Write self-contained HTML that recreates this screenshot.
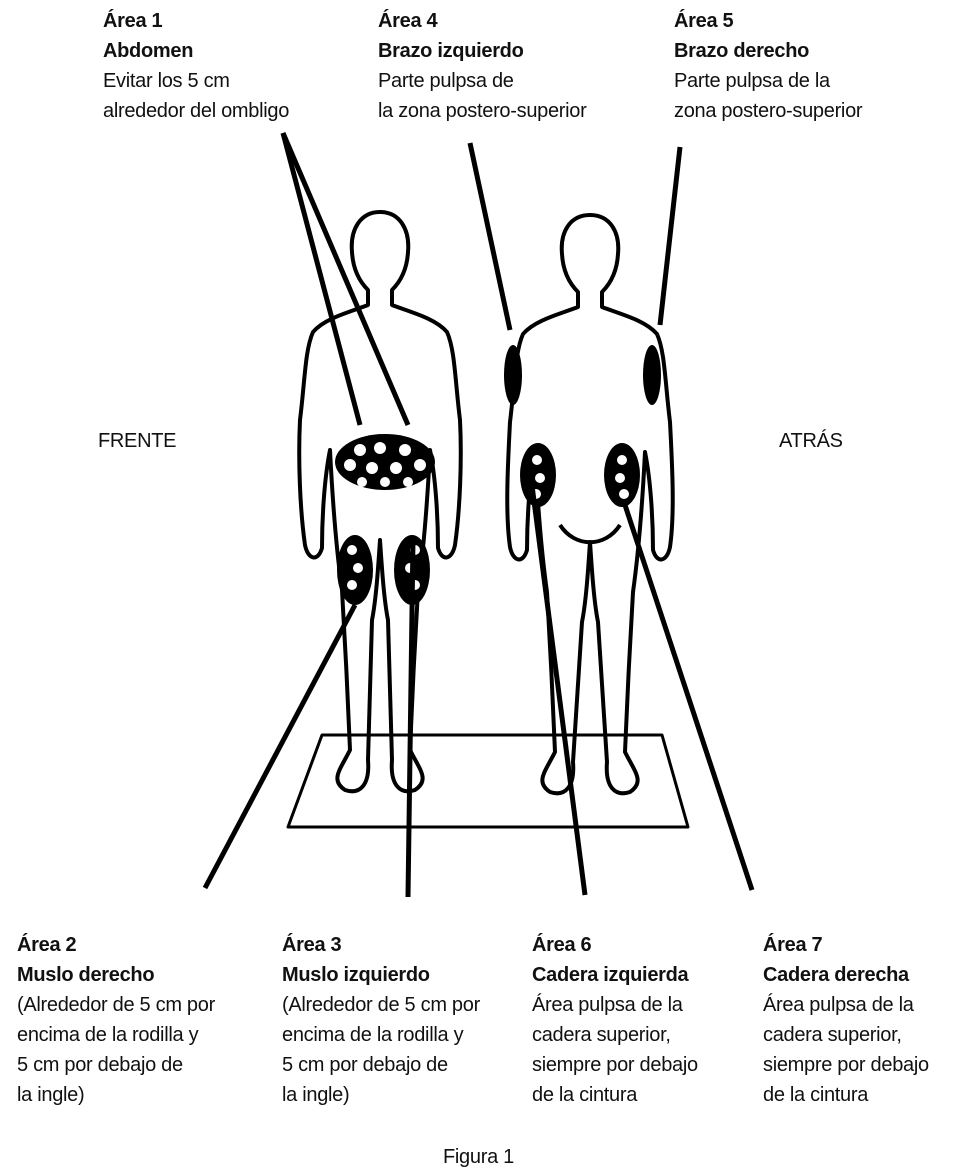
<!DOCTYPE html>
<html><head><meta charset="utf-8"><style>
body{margin:0;background:#fff;width:959px;height:1174px;position:relative;overflow:hidden;font-family:"Liberation Sans Narrow","Liberation Sans",sans-serif;}
.t{position:absolute;font-size:20px;line-height:30px;color:#111;white-space:nowrap;letter-spacing:-0.3px}
.t b{font-weight:bold}
svg{position:absolute;left:0;top:0}
</style></head><body>
<svg width="959" height="1174" viewBox="0 0 959 1174">
<g fill="none" stroke="#000" stroke-width="4" stroke-linejoin="round">
<polygon points="322,735 662,735 688,827 288,827" stroke-width="3"/>
<path d="M380,212 C360,212 350,230 352,252 C353,270 360,282 368,290 L368,305 C350,312 325,318 313,332 C305,350 305,380 300,420 C298,460 300,510 305,545 C308,560 318,562 322,548 C322,520 324,480 330,450 C332,490 335,540 342,590 C345,640 348,700 350,750 C340,770 330,780 345,790 C360,795 370,785 368,760 L372,620 C376,600 378,570 380,540 C382,570 384,600 388,620 L392,760 C390,785 400,795 415,790 C430,780 420,770 410,750 C412,700 415,640 418,590 C425,540 428,490 430,450 C436,480 438,520 438,548 C442,562 452,560 455,545 C460,510 462,460 460,420 C455,380 455,350 447,332 C435,318 410,312 392,305 L392,290 C400,282 407,270 408,252 C410,230 400,212 380,212 Z"/>
<path d="M590,215 C570,215 560,232 562,254 C563,272 570,284 578,292 L578,307 C560,314 535,320 523,334 C515,352 515,382 510,422 C508,462 505,512 510,547 C513,562 523,564 527,550 C527,522 529,482 535,452 C537,492 540,542 547,592 C550,642 553,702 555,752 C545,772 535,782 550,792 C565,797 575,787 573,762 L582,622 C586,602 588,572 590,542 C592,572 594,602 598,622 L607,762 C605,787 615,797 630,792 C645,782 635,772 625,752 C627,702 630,642 633,592 C640,542 643,492 645,452 C651,482 653,522 653,550 C657,564 667,562 670,547 C675,512 672,462 670,422 C665,382 665,352 657,334 C645,320 620,314 602,307 L602,292 C610,284 617,272 618,254 C620,232 610,215 590,215 Z"/>
<path d="M560,525 C575,548 605,548 620,525"/>
</g>
<g fill="#000">
<ellipse cx="385" cy="462" rx="50" ry="28"/>
<ellipse cx="355" cy="570" rx="18" ry="35"/>
<ellipse cx="412" cy="570" rx="18" ry="35"/>
<ellipse cx="538" cy="475" rx="18" ry="32"/>
<ellipse cx="622" cy="475" rx="18" ry="32"/>
<ellipse cx="513" cy="375" rx="9" ry="30"/>
<ellipse cx="652" cy="375" rx="9" ry="30"/>
</g>
<g fill="#fff">
<circle cx="360" cy="450" r="6"/><circle cx="380" cy="448" r="6"/><circle cx="405" cy="450" r="6"/><circle cx="350" cy="465" r="6"/><circle cx="372" cy="468" r="6"/><circle cx="396" cy="468" r="6"/><circle cx="420" cy="465" r="6"/><circle cx="385" cy="482" r="5"/><circle cx="362" cy="482" r="5"/><circle cx="408" cy="482" r="5"/>
<circle cx="352" cy="550" r="5"/><circle cx="358" cy="568" r="5"/><circle cx="352" cy="585" r="5"/><circle cx="415" cy="550" r="5"/><circle cx="410" cy="568" r="5"/><circle cx="415" cy="585" r="5"/>
<circle cx="537" cy="460" r="5"/><circle cx="540" cy="478" r="5"/><circle cx="536" cy="494" r="5"/><circle cx="622" cy="460" r="5"/><circle cx="620" cy="478" r="5"/><circle cx="624" cy="494" r="5"/>
</g>
<g stroke="#000" stroke-width="5">
<line x1="283" y1="133" x2="360" y2="425"/>
<line x1="283" y1="133" x2="408" y2="425"/>
<line x1="470" y1="143" x2="510" y2="330"/>
<line x1="680" y1="147" x2="660" y2="325"/>
<line x1="205" y1="888" x2="355" y2="605"/>
<line x1="408" y1="897" x2="413" y2="540"/>
<line x1="585" y1="895" x2="530" y2="470"/>
<line x1="752" y1="890" x2="625" y2="505"/>
</g>
</svg>
<div class="t" style="left:103px;top:6px"><b>Área 1</b><br><b>Abdomen</b><br>Evitar los 5 cm<br>alrededor del ombligo</div>
<div class="t" style="left:378px;top:6px"><b>Área 4</b><br><b>Brazo izquierdo</b><br>Parte pulpsa de<br>la zona postero-superior</div>
<div class="t" style="left:674px;top:6px"><b>Área 5</b><br><b>Brazo derecho</b><br>Parte pulpsa de la<br>zona postero-superior</div>
<div class="t" style="left:98px;top:426px">FRENTE</div>
<div class="t" style="left:779px;top:426px">ATRÁS</div>
<div class="t" style="left:17px;top:930px"><b>Área 2</b><br><b>Muslo derecho</b><br>(Alrededor de 5 cm por<br>encima de la rodilla y<br>5 cm por debajo de<br>la ingle)</div>
<div class="t" style="left:282px;top:930px"><b>Área 3</b><br><b>Muslo izquierdo</b><br>(Alrededor de 5 cm por<br>encima de la rodilla y<br>5 cm por debajo de<br>la ingle)</div>
<div class="t" style="left:532px;top:930px"><b>Área 6</b><br><b>Cadera izquierda</b><br>Área pulpsa de la<br>cadera superior,<br>siempre por debajo<br>de la cintura</div>
<div class="t" style="left:763px;top:930px"><b>Área 7</b><br><b>Cadera derecha</b><br>Área pulpsa de la<br>cadera superior,<br>siempre por debajo<br>de la cintura</div>
<div class="t" style="left:443px;top:1142px">Figura 1</div>
</body></html>
